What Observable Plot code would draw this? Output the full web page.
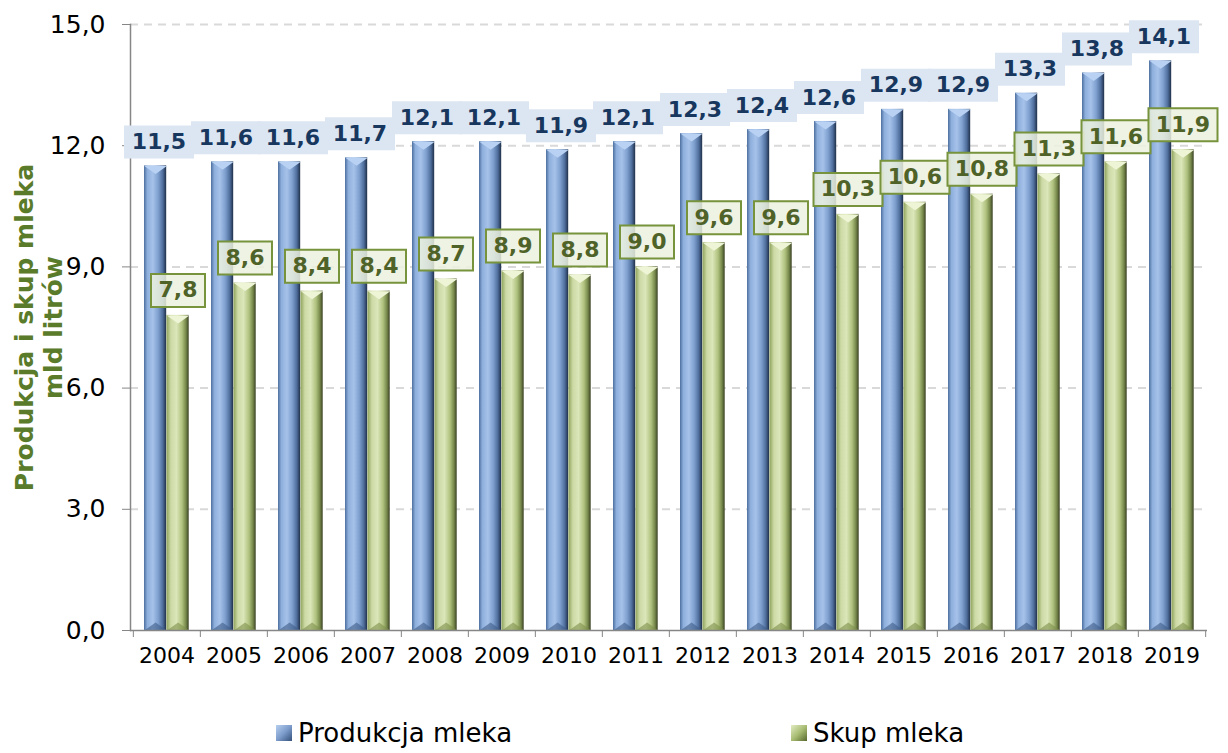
<!DOCTYPE html>
<html><head><meta charset="utf-8">
<script src="https://cdn.jsdelivr.net/npm/d3@7"></script>
<script src="https://cdn.jsdelivr.net/npm/@observablehq/plot@0.6"></script>
<style>
body{margin:0;background:#fff;font-family:"DejaVu Sans",Verdana,sans-serif;}
#wrap{position:relative;width:1228px;height:753px;overflow:hidden;background:#fff;}
#chart{position:absolute;left:0;top:0;}
.leg{position:absolute;top:718px;font-size:26px;line-height:30px;color:#000;display:flex;align-items:center;white-space:nowrap;}
.sw{width:16px;height:16px;margin-right:6px;display:inline-block;}
</style></head><body>
<div id="wrap"><div id="chart"></div>
<div class="leg" style="left:276px"><span class="sw" style="background:linear-gradient(135deg,#b7d0f0 0%,#7d9ccb 50%,#34507a 100%)"></span><span id="l0"></span></div>
<div class="leg" style="left:791px"><span class="sw" style="background:linear-gradient(135deg,#e2ecc4 0%,#a9bd74 50%,#56682c 100%)"></span><span id="l1"></span></div>
</div>
<script>
const years = ["2004","2005","2006","2007","2008","2009","2010","2011","2012","2013","2014","2015","2016","2017","2018","2019"];
const produkcja = [11.5,11.6,11.6,11.7,12.1,12.1,11.9,12.1,12.3,12.4,12.6,12.9,12.9,13.3,13.8,14.1];
const skup = [7.8,8.6,8.4,8.4,8.7,8.9,8.8,9.0,9.6,9.6,10.3,10.6,10.8,11.3,11.6,11.9];
const seriesNames = ["Produkcja mleka","Skup mleka"];
const yTicks = [0,3,6,9,12,15];
const yTitle = ["Produkcja i skup mleka","mld litrów"];

const fmt = v => d3.format(".1f")(v).replace(".", ",");
const prodData = years.map((year,i)=>({year, value: produkcja[i], series: seriesNames[0]}));
const skupData = years.map((year,i)=>({year, value: skup[i], series: seriesNames[1]}));

const boxSym = (w,h) => ({draw(ctx){ctx.rect(-w/2,-h/2,w,h);}});
const triDown = (w,h) => ({draw(ctx){ctx.moveTo(-w/2,0);ctx.lineTo(w/2,0);ctx.lineTo(0,h);ctx.closePath();}});
const triUp = (w,h) => ({draw(ctx){ctx.moveTo(-w/2,0);ctx.lineTo(w/2,0);ctx.lineTo(0,-h);ctx.closePath();}});

const W = 1228, ML = 130, MR = 21;
const bw = (W-ML-MR)/years.length;
const blueOff = 11 + 11.25 - bw/2;
const greenOff = 33.5 + 11.25 - bw/2;

const svg = Plot.plot({
  width: W, height: 700,
  marginTop: 24, marginBottom: 70, marginLeft: ML, marginRight: MR,
  style: {fontFamily: "DejaVu Sans, Verdana, sans-serif", background: "white", overflow: "visible"},
  x: {domain: years, padding: 0, label: null},
  y: {domain: [0,15], label: null},
  marks: [
    Plot.ruleY(yTicks.filter(d=>d>0), {stroke:"#d9d9d9", strokeWidth:2, strokeDasharray:"8,6"}),
    Plot.barY(prodData, {x:"year", y:"value", fill:"url(#gradBlue)", insetLeft:11, insetRight: bw-33.5}),
    Plot.barY(skupData, {x:"year", y:"value", fill:"url(#gradGreen)", insetLeft:33.5, insetRight: bw-56}),
    Plot.dot(prodData, {x:"year", y:"value", symbol: triDown(22.5,8), fill:"#b9d2f3", stroke:"none", dx: blueOff}),
    Plot.dot(skupData, {x:"year", y:"value", symbol: triDown(22.5,8), fill:"#eef5d6", stroke:"none", dx: greenOff}),
    Plot.dot(prodData, {x:"year", y:() => 0, symbol: triUp(22.5,8), fill:"#3e5c87", fillOpacity:0.6, stroke:"none", dx: blueOff}),
    Plot.dot(skupData, {x:"year", y:() => 0, symbol: triUp(22.5,8), fill:"#7d8f4a", fillOpacity:0.6, stroke:"none", dx: greenOff}),
    Plot.ruleY([0], {stroke:"#868686", strokeWidth:1.5}),
    Plot.frame({anchor:"left", stroke:"#868686", strokeWidth:1.5}),
    Plot.axisY({ticks: yTicks, tickSize: 8, tickFormat: () => "", stroke:"#868686"}),
    Plot.axisY({ticks: yTicks, tickSize: 0, tickPadding: 25, tickFormat: fmt, fontSize: 25, fill:"#000", label: null}),
    Plot.axisX({tickSize: 7, tickFormat: () => "", dx: -bw/2, stroke:"#868686"}),
    Plot.axisX({ticks: [years[years.length-1]], tickSize: 7, tickFormat: () => "", dx: bw/2, stroke:"#868686"}),
    Plot.axisX({tickSize: 0, tickPadding: 17, fontSize: 22, fill:"#000", label: null}),
    // blue labels
    Plot.dot(prodData, {x:"year", y:"value", symbol: boxSym(70,33), fill:"#dce6f2", stroke:"none", dx:-8, dy:-24}),
    Plot.text(prodData, {x:"year", y:"value", text: d=>fmt(d.value), fill:"#17375e", fontWeight:"bold", fontSize:22, dx:-8, dy:-24}),
    // green labels
    Plot.dot(skupData, {filter: d=>fmt(d.value).length<=3, x:"year", y:"value", symbol: boxSym(54,33), fill:"#ebf1de", fillOpacity:0.85, stroke:"#77933c", strokeWidth:2, dx:11, dy:-25}),
    Plot.dot(skupData, {filter: d=>fmt(d.value).length>3, x:"year", y:"value", symbol: boxSym(69,33), fill:"#ebf1de", fillOpacity:0.85, stroke:"#77933c", strokeWidth:2, dx:11, dy:-25}),
    Plot.text(skupData, {x:"year", y:"value", text: d=>fmt(d.value), fill:"#4f6228", fontWeight:"bold", fontSize:22, dx:11, dy:-25}),
    // y title
    Plot.text([yTitle.join("\n")], {text: d=>d, frameAnchor:"left", textAnchor:"middle", dx:-92, rotate:-90, fontSize:25, fontWeight:"bold", fill:"#5a7b2a", lineHeight:1.14})
  ]
});

const defs = d3.select(svg).insert("defs", ":first-child");
const g1 = defs.append("linearGradient").attr("id","gradBlue").attr("x1","0").attr("x2","1").attr("y1","0").attr("y2","0");
[[0,"#4d6f9f"],[0.15,"#8eafdc"],[0.4,"#a6c2ea"],[0.65,"#7d9ecd"],[0.85,"#4e6d9b"],[1,"#1f2f48"]].forEach(([o,c])=>g1.append("stop").attr("offset",o).attr("stop-color",c));
const g2 = defs.append("linearGradient").attr("id","gradGreen").attr("x1","0").attr("x2","1").attr("y1","0").attr("y2","0");
[[0,"#8ea35b"],[0.2,"#cddaa6"],[0.45,"#dbe6b9"],[0.7,"#b0c27e"],[0.88,"#75864a"],[1,"#383f22"]].forEach(([o,c])=>g2.append("stop").attr("offset",o).attr("stop-color",c));

document.getElementById("chart").appendChild(svg);
document.getElementById("l0").textContent = seriesNames[0];
document.getElementById("l1").textContent = seriesNames[1];
</script>
</body></html>
